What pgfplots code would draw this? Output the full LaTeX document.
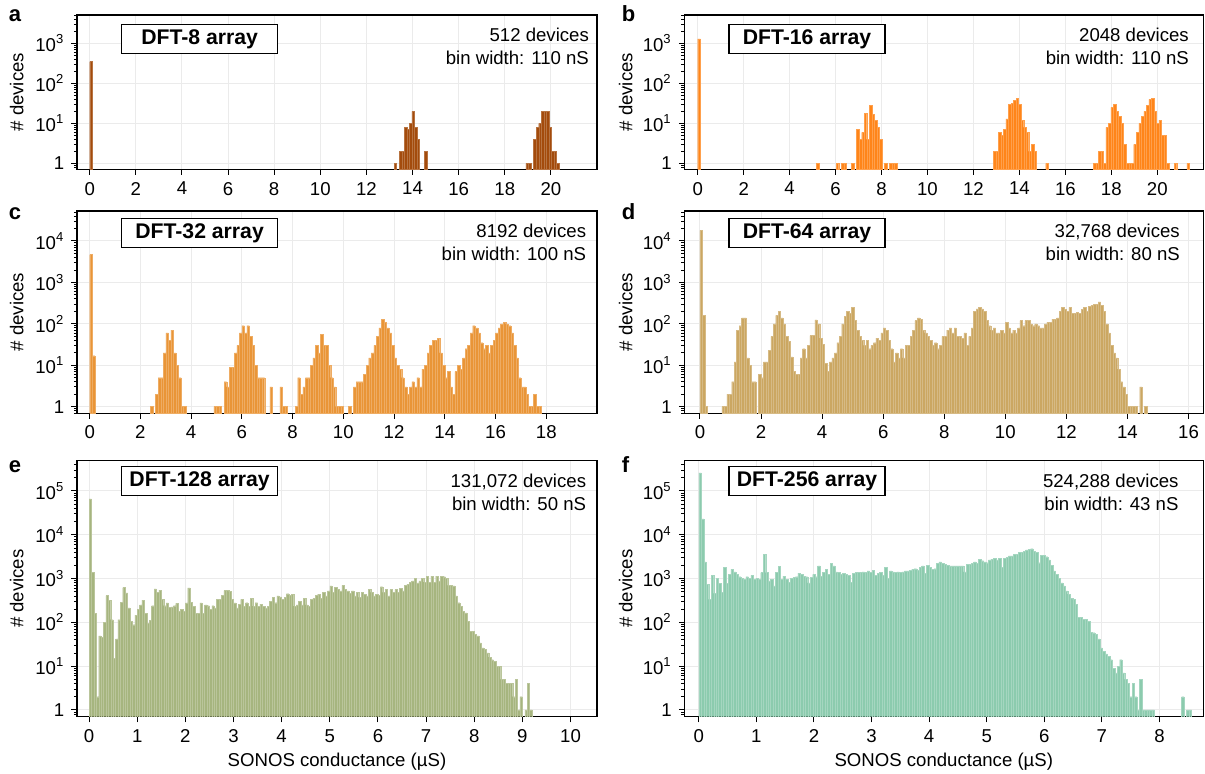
\documentclass[border=0pt]{standalone}
\usepackage{fontspec}
\setmainfont{Liberation Sans}
\usepackage{pgfplots}
\pgfplotsset{compat=1.18}

\definecolor{dftA}{HTML}{A34B0C}
\definecolor{dftB}{HTML}{FF8519}
\definecolor{dftC}{HTML}{E99537}
\definecolor{dftD}{HTML}{CBA762}
\definecolor{dftE}{HTML}{A6B57F}
\definecolor{dftF}{HTML}{8CCBAE}
\definecolor{gridgray}{HTML}{EBEBEB}

\newcommand{\fs}{\fontsize{9.3}{11.2}\selectfont}
\newcommand{\tenp}[1]{10\textsuperscript{#1}}

\pgfkeys{/pgf/number format/assume math mode=true}
\pgfplotsset{
  dftpanel/.style={
    scale only axis, anchor=north west,
    axis line style={line width=0.65pt},
    tick pos=left, tick align=outside,
    major tick length=2.8pt, minor tick length=1.6pt,
    every major tick/.append style={line width=0.5pt, black},
    every minor tick/.append style={line width=0.4pt, black},
    xmajorgrids, ymajorgrids,
    major grid style={line width=0.5pt, gridgray},
    ticklabel style={font=\fs},
    ylabel={\# devices},
  },
  leftcol/.style={width=260pt,
    ylabel style={font=\fs, at={(axis description cs:-0.116,0.5)}, anchor=center}},
  rightcol/.style={width=259.4pt,
    ylabel style={font=\fs, at={(axis description cs:-0.113,0.5)}, anchor=center}},
  row1/.style={height=77.2pt, ymin=0.71, ymax=5100,
    ytick={1,10,100,1000}, yticklabels={1,\tenp{1},\tenp{2},\tenp{3}},
    minor ytick={0.8,0.9,2,3,4,5,6,7,8,9,20,30,40,50,60,70,80,90,200,300,400,500,600,700,800,900,2000,3000,4000,5000}},
  row2/.style={height=101.15pt, ymin=0.69, ymax=53000,
    ytick={1,10,100,1000,10000}, yticklabels={1,\tenp{1},\tenp{2},\tenp{3},\tenp{4}},
    minor ytick={0.7,0.8,0.9,2,3,4,5,6,7,8,9,20,30,40,50,60,70,80,90,200,300,400,500,600,700,800,900,2000,3000,4000,5000,6000,7000,8000,9000,20000,30000,40000,50000}},
  row3/.style={height=128pt, ymin=0.70, ymax=490000,
    ytick={1,10,100,1000,10000,100000}, yticklabels={1,\tenp{1},\tenp{2},\tenp{3},\tenp{4},\tenp{5}},
    minor ytick={0.8,0.9,2,3,4,5,6,7,8,9,20,30,40,50,60,70,80,90,200,300,400,500,600,700,800,900,2000,3000,4000,5000,6000,7000,8000,9000,20000,30000,40000,50000,60000,70000,80000,90000,200000,300000,400000},
    xlabel={SONOS conductance (µS)},
    xlabel style={font=\fs, at={(axis description cs:0.5,0)}, anchor=base, yshift=-25pt}},
  dftbars/.style 2 args={ybar, bar width=#1, fill=#2, draw=#2!78!white, line width=0.15pt},
}

\newcommand{\dftbox}[2]{\node[draw=black, line width=0.6pt, fill=white, anchor=north west,
  minimum width=78pt, minimum height=14.65pt, inner sep=0pt,
  font=\bfseries\fontsize{10.6}{12}\selectfont, xshift=22pt, yshift=#2] at (rel axis cs:0,1) {#1};}
\newcommand{\info}[3]{%
  \node[anchor=base east, font=\fs, inner sep=0pt, xshift=#3, yshift=-13.35pt] at (rel axis cs:1,1) {#1};
  \node[anchor=base east, font=\fs, inner sep=0pt, xshift=#3, yshift=-24.7pt] at (rel axis cs:1,1) {#2};}

\begin{document}
\begin{tikzpicture}
\useasboundingbox (0,0) rectangle (602.5pt,-387pt);

% a: DFT-8
\begin{axis}[ymode=log, log origin=infty, dftpanel, leftcol, row1, at={(38.5pt,-7.5pt)},
  xmin=-0.55, xmax=22, xtick={0,2,...,20}]
\addplot[dftbars={0.11}{dftA}] coordinates {
(0.055,350)
(13.255,1) (13.475,2) (13.585,2) (13.695,8) (13.805,7) (13.915,10) (14.025,20)
(14.135,8) (14.245,4) (14.575,2)
(18.975,1) (19.085,1) (19.305,4) (19.415,8) (19.525,10) (19.635,20) (19.745,20)
(19.855,20) (19.965,8) (20.075,2) (20.185,2) (20.295,1)
};
\dftbox{DFT-8 array}{-4.5pt}
\info{512 devices}{bin width: 110 nS}{-3.85pt}
\end{axis}

% b: DFT-16
\begin{axis}[ymode=log, log origin=infty, dftpanel, rightcol, row1, at={(342.2pt,-7.5pt)},
  xmin=-0.58, xmax=22, xtick={0,2,...,20}]
\addplot[dftbars={0.11}{dftB}] coordinates {
(0.055,1300)
(5.22,1) (6.08,1) (6.30,1) (6.41,1) (6.75,1) (6.97,7) (7.08,4) (7.19,6) (7.30,18)
(7.41,4) (7.52,28) (7.63,17) (7.74,12) (7.85,8) (7.96,4) (8.18,1) (8.40,1) (8.51,1) (8.62,1)
(12.92,2) (13.03,2) (13.14,6) (13.25,5) (13.36,7) (13.47,13) (13.58,30) (13.69,32)
(13.80,38) (13.91,42) (14.02,30) (14.13,12) (14.24,8) (14.35,6) (14.46,2) (14.57,3)
(14.68,2) (15.20,1)
(17.27,1) (17.38,1) (17.49,2) (17.60,2) (17.71,1) (17.82,8) (17.93,10) (18.04,25)
(18.15,30) (18.26,20) (18.37,15) (18.48,10) (18.59,3) (18.70,1) (18.81,1) (18.92,1)
(19.03,3) (19.14,6) (19.25,10) (19.36,15) (19.47,20) (19.58,28) (19.69,40) (19.80,42)
(19.91,20) (20.02,10) (20.13,12) (20.24,5) (20.35,5) (20.46,1) (20.79,1) (21.34,1)
};
\dftbox{DFT-16 array}{-4.5pt}
\info{2048 devices}{bin width: 110 nS}{-7pt}
\end{axis}

% c: DFT-32
\begin{axis}[ymode=log, log origin=infty, dftpanel, leftcol, row2, at={(38.5pt,-105.5pt)},
  xmin=-0.5, xmax=20, xtick={0,2,...,18}]
\addplot[dftbars={0.1}{dftC}] coordinates {
(0.05,4700) (0.15,17)
(2.45,1) (2.65,2) (2.75,5) (2.85,5) (2.95,20) (3.05,60) (3.15,40) (3.25,70) (3.35,20)
(3.45,10) (3.55,5) (3.65,1) (3.75,1)
(4.95,1) (5.05,1) (5.15,1) (5.35,4) (5.45,3) (5.55,9) (5.65,9) (5.75,20) (5.85,30)
(5.95,60) (6.05,90) (6.15,60) (6.25,90) (6.35,50) (6.45,30) (6.55,10) (6.65,5)
(6.75,5) (6.85,5) (7.15,3) (7.55,3) (7.65,1) (7.75,1)
(8.15,1) (8.25,5) (8.35,2) (8.45,3) (8.55,5) (8.65,5) (8.75,10) (8.85,15) (8.95,30)
(9.05,20) (9.15,55) (9.25,30) (9.35,30) (9.45,10) (9.55,5) (9.65,3) (9.75,1) (9.85,1)
(9.95,1) (10.25,1)
(10.45,3) (10.55,4) (10.65,4) (10.75,4) (10.85,6) (10.95,10) (11.05,15) (11.15,20)
(11.25,30) (11.35,50) (11.45,80) (11.55,130) (11.65,110) (11.75,80) (11.85,60)
(11.95,30) (12.05,15) (12.15,10) (12.25,8) (12.35,5) (12.45,3) (12.55,2) (12.65,3)
(12.75,4) (12.85,3) (12.95,5) (13.05,3) (13.15,8) (13.25,10) (13.35,20) (13.45,30)
(13.55,40) (13.65,40) (13.75,45) (13.85,20) (13.95,10) (14.05,5) (14.15,7) (14.25,3)
(14.35,2) (14.45,7) (14.55,10) (14.65,8) (14.75,15) (14.85,25) (14.95,30) (15.05,60)
(15.15,90) (15.25,80) (15.35,60) (15.45,35) (15.55,25) (15.65,30) (15.75,20)
(15.85,30) (15.95,40) (16.05,60) (16.15,80) (16.25,100) (16.35,110) (16.45,100)
(16.55,90) (16.65,60) (16.75,30) (16.85,15) (16.95,5) (17.05,3) (17.15,3) (17.25,2)
(17.35,1) (17.45,1) (17.55,2) (17.65,1) (17.75,1)
};
\dftbox{DFT-32 array}{-3.35pt}
\info{8192 devices}{bin width: 100 nS}{-5.25pt}
\end{axis}

% d: DFT-64
\begin{axis}[ymode=log, log origin=infty, dftpanel, rightcol, row2, at={(342.2pt,-105.5pt)},
  xmin=-0.51, xmax=16.48, xtick={0,2,...,16}]
\addplot[dftbars={0.08}{dftD}] coordinates {
(0.04,18000) (0.12,160) (0.20,1)
(0.76,1) (0.84,1) (0.92,2) (1.00,2) (1.08,4) (1.16,12) (1.24,70) (1.32,90) (1.40,140)
(1.48,140) (1.56,15) (1.64,10) (1.72,4) (1.80,4)
(1.96,6) (2.04,5) (2.12,12) (2.20,12) (2.28,23) (2.36,50) (2.44,100) (2.52,160)
(2.60,200) (2.68,140) (2.76,100) (2.84,50) (2.92,38) (3.00,16) (3.08,7) (3.16,6)
(3.24,6) (3.32,15) (3.40,25) (3.48,15) (3.56,30) (3.64,52) (3.72,52) (3.80,125)
(3.88,100) (3.96,45) (4.04,32) (4.12,11) (4.20,7) (4.28,12) (4.36,15) (4.44,20)
(4.52,35) (4.60,50) (4.68,100) (4.76,150) (4.84,200) (4.92,180) (5.00,250) (5.08,120)
(5.16,70) (5.24,50) (5.32,40) (5.40,30) (5.48,40) (5.56,25) (5.64,30) (5.72,35)
(5.80,45) (5.88,40) (5.96,60) (6.04,80) (6.12,70) (6.20,40) (6.28,25) (6.36,12)
(6.44,20) (6.52,15) (6.60,25) (6.68,15) (6.76,30) (6.84,30) (6.92,50) (7.00,70)
(7.08,120) (7.16,140) (7.24,130) (7.32,70) (7.40,60) (7.48,50) (7.56,40) (7.64,30)
(7.72,35) (7.80,25) (7.88,30) (7.96,50) (8.04,50) (8.12,70) (8.20,80) (8.28,60)
(8.36,80) (8.44,50) (8.52,50) (8.60,45) (8.68,60) (8.76,30) (8.84,50) (8.92,80)
(9.00,200) (9.08,230) (9.16,250) (9.24,230) (9.32,200) (9.40,120) (9.48,90) (9.56,70)
(9.64,80) (9.72,60) (9.80,60) (9.88,70) (9.96,60) (10.04,110) (10.12,80) (10.20,60)
(10.28,70) (10.36,60) (10.44,80) (10.52,120) (10.60,90) (10.68,120) (10.76,120)
(10.84,100) (10.92,90) (11.00,100) (11.08,90) (11.16,80) (11.24,80) (11.32,100)
(11.40,110) (11.48,110) (11.56,130) (11.64,130) (11.72,140) (11.80,200) (11.88,250)
(11.96,220) (12.04,200) (12.12,250) (12.20,180) (12.28,180) (12.36,190) (12.44,180)
(12.52,220) (12.60,250) (12.68,200) (12.76,260) (12.84,280) (12.92,300) (13.00,300)
(13.08,340) (13.16,280) (13.24,200) (13.32,100) (13.40,60) (13.48,30) (13.56,20)
(13.64,15) (13.72,8) (13.80,4) (13.88,3) (13.96,2) (14.04,1) (14.12,1) (14.20,1)
(14.28,1) (14.44,3) (14.60,1)
};
\dftbox{DFT-64 array}{-3.35pt}
\info{32,768 devices}{bin width: 80 nS}{-11.5pt}
\end{axis}

% e: DFT-128
\begin{axis}[ymode=log, log origin=infty, dftpanel, leftcol, row3, at={(38.5pt,-230.35pt)},
  xmin=-0.25, xmax=10.55, xtick={0,1,...,10}]
\addplot[dftbars={0.05}{dftE}] coordinates {
(0.025,66000) (0.075,1370) (0.125,163) (0.175,2) (0.225,49) (0.275,45) (0.325,100)
(0.375,407) (0.425,320) (0.475,115) (0.525,15) (0.575,42) (0.625,115) (0.675,287)
(0.725,620) (0.775,470) (0.825,213) (0.875,105) (0.925,88) (0.975,145) (1.025,200)
(1.075,250) (1.125,320) (1.175,163) (1.225,96) (1.275,110) (1.325,240) (1.375,580)
(1.425,490) (1.475,540) (1.525,330) (1.575,240) (1.625,277) (1.675,217) (1.725,225)
(1.775,240) (1.825,270) (1.875,178) (1.925,195) (1.975,178) (2.025,277) (2.075,610)
(2.125,287) (2.175,230) (2.225,163) (2.275,163) (2.325,277) (2.375,163) (2.425,250)
(2.475,240) (2.525,200) (2.575,240) (2.625,213) (2.675,330) (2.725,340) (2.775,410)
(2.825,530) (2.875,530) (2.925,510) (2.975,330) (3.025,277) (3.075,215) (3.125,260)
(3.175,335) (3.225,235) (3.275,280) (3.325,235) (3.375,350) (3.425,235) (3.475,280)
(3.525,235) (3.575,260) (3.625,235) (3.675,215) (3.725,235) (3.775,300) (3.825,370)
(3.875,280) (3.925,400) (3.975,380) (4.025,335) (4.075,370) (4.125,450) (4.175,410)
(4.225,440) (4.275,235) (4.325,250) (4.375,300) (4.425,250) (4.475,350) (4.525,250)
(4.575,235) (4.625,335) (4.675,350) (4.725,410) (4.775,440) (4.825,350) (4.875,480)
(4.925,400) (4.975,520) (5.025,680) (5.075,480) (5.125,620) (5.175,560) (5.225,520)
(5.275,700) (5.325,560) (5.375,520) (5.425,460) (5.475,520) (5.525,400) (5.575,480)
(5.625,370) (5.675,480) (5.725,440) (5.775,400) (5.825,560) (5.875,480) (5.925,400)
(5.975,440) (6.025,410) (6.075,650) (6.125,480) (6.175,560) (6.225,400) (6.275,560)
(6.325,480) (6.375,560) (6.425,480) (6.475,590) (6.525,520) (6.575,700) (6.625,740)
(6.675,830) (6.725,880) (6.775,1000) (6.825,800) (6.875,880) (6.925,1000) (6.975,830)
(7.025,1130) (7.075,830) (7.125,1130) (7.175,830) (7.225,1130) (7.275,880) (7.325,1130)
(7.375,1100) (7.425,1000) (7.475,700) (7.525,700) (7.575,680) (7.625,400) (7.675,280)
(7.725,235) (7.775,180) (7.825,165) (7.875,107) (7.925,63) (7.975,63) (8.025,53)
(8.075,49) (8.125,34) (8.175,26) (8.225,24) (8.275,20) (8.325,16) (8.375,14) (8.425,13)
(8.475,10) (8.525,10) (8.575,5) (8.625,5) (8.675,4) (8.725,4) (8.775,4) (8.825,2)
(8.875,5) (8.925,1) (8.975,2) (9.075,1) (9.125,4) (9.175,1)
};
\dftbox{DFT-128 array}{-2.65pt}
\info{131,072 devices}{bin width: 50 nS}{-5.25pt}
\end{axis}

% f: DFT-256
\begin{axis}[ymode=log, log origin=infty, dftpanel, rightcol, row3, at={(342.2pt,-230.35pt)},
  xmin=-0.25, xmax=8.76, xtick={0,1,...,8}]
\addplot[dftbars={0.043}{dftF}] coordinates {
(0.0215,260000) (0.0645,23000) (0.1075,2400) (0.1505,740) (0.1935,335) (0.2365,1180)
(0.2795,460) (0.3225,1000) (0.3655,780) (0.4085,490) (0.4515,1830) (0.4945,780)
(0.5375,1250) (0.5805,1620) (0.6235,1410) (0.6665,1250) (0.7095,1100) (0.7525,1000)
(0.7955,960) (0.8385,1100) (0.8815,1000) (0.9245,1180) (0.9675,960) (1.0105,1000)
(1.0535,960) (1.0965,1370) (1.1395,3600) (1.1825,1370) (1.2255,880) (1.2685,960)
(1.3115,680) (1.3545,1370) (1.3975,1900) (1.4405,960) (1.4835,1130) (1.5265,960)
(1.5695,830) (1.6125,1000) (1.6555,1050) (1.6985,1100) (1.7415,1320) (1.7845,1250)
(1.8275,1130) (1.8705,1100) (1.9135,800) (1.9565,1050) (1.9995,1250) (2.0425,1100)
(2.0855,1950) (2.1285,1130) (2.1715,1370) (2.2145,1620) (2.2575,1250) (2.3005,2200)
(2.3435,1950) (2.3865,1410) (2.4295,1370) (2.4725,1250) (2.5155,1320) (2.5585,1250)
(2.6015,1180) (2.6445,830) (2.6875,1320) (2.7305,1370) (2.7735,1370) (2.8165,1370)
(2.8595,1410) (2.9025,1370) (2.9455,1500) (2.9885,1370) (3.0315,1560) (3.0745,1180)
(3.1175,1320) (3.1605,1370) (3.2035,1180) (3.2465,1780) (3.2895,1000) (3.3325,1500)
(3.3755,1410) (3.4185,1370) (3.4615,1410) (3.5045,1370) (3.5475,1410) (3.5905,1500)
(3.6335,1500) (3.6765,1560) (3.7195,1620) (3.7625,1680) (3.8055,1560) (3.8485,1830)
(3.8915,1950) (3.9345,1320) (3.9775,2000) (4.0205,1780) (4.0635,1620) (4.1065,1680)
(4.1495,2200) (4.1925,2400) (4.2355,2200) (4.2785,2100) (4.3215,2000) (4.3645,1950)
(4.4075,1950) (4.4505,1950) (4.4935,1950) (4.5365,1950) (4.5795,1950) (4.6225,1410)
(4.6655,2100) (4.7085,2100) (4.7515,2200) (4.7945,2400) (4.8375,2200) (4.8805,2750)
(4.9235,2550) (4.9665,2400) (5.0095,2300) (5.0525,2650) (5.0955,2750) (5.1385,2850)
(5.1815,2650) (5.2245,2850) (5.2675,1780) (5.3105,2850) (5.3535,3000) (5.3965,3300)
(5.4395,3300) (5.4825,3600) (5.5255,3600) (5.5685,3900) (5.6115,4000) (5.6545,4200)
(5.6975,4500) (5.7405,4600) (5.7835,4800) (5.8265,4200) (5.8695,3900) (5.9125,2300)
(5.9555,3400) (5.9985,3400) (6.0415,3150) (6.0845,2650) (6.1275,2000) (6.1705,1500)
(6.2135,1250) (6.2565,1000) (6.2995,800) (6.3425,680) (6.3855,520) (6.4285,440)
(6.4715,350) (6.5145,335) (6.5575,260) (6.6005,128) (6.6435,128) (6.6865,117)
(6.7295,117) (6.7725,107) (6.8155,60) (6.8585,58) (6.9015,53) (6.9445,42) (6.9875,26)
(7.0305,22) (7.0735,19) (7.1165,17) (7.1595,14) (7.2025,9) (7.2455,7) (7.2885,10)
(7.3315,14) (7.3745,7) (7.4175,5) (7.4605,4) (7.5035,2) (7.5465,4) (7.5895,2)
(7.6325,1) (7.6755,5) (7.7185,1) (7.7615,1) (7.8045,1) (7.8475,1) (7.8905,1)
(8.4065,2) (8.4925,1) (8.5355,1)
};
\dftbox{DFT-256 array}{-2.65pt}
\info{524,288 devices}{bin width: 43 nS}{-12.15pt}
\end{axis}

% panel letters
\begin{scope}[every node/.style={anchor=base west, inner sep=0pt, font=\bfseries\fontsize{11}{12}\selectfont}]
\node at (4.3pt,-10.85pt) {a};
\node at (310.7pt,-10.85pt) {b};
\node at (4.3pt,-110pt) {c};
\node at (310.7pt,-110pt) {d};
\node at (4.3pt,-236.35pt) {e};
\node at (310.7pt,-236.35pt) {f};
\end{scope}
\end{tikzpicture}
\end{document}
